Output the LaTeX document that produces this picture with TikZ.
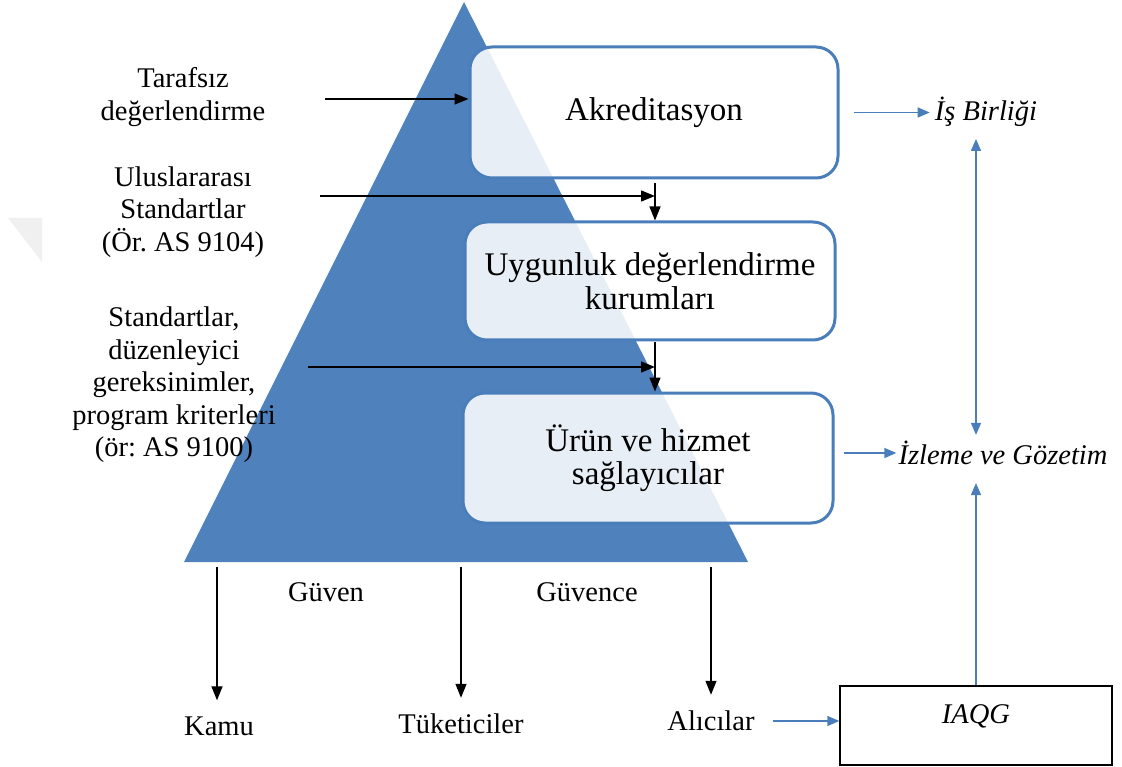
\documentclass[tikz,border=0pt]{standalone}
\usepackage{fontspec}
\setmainfont{Liberation Serif}
\usetikzlibrary{arrows.meta}
\definecolor{triblue}{RGB}{79,129,189}
\definecolor{edgeblue}{RGB}{74,126,187}
\frenchspacing
\begin{document}
\begin{tikzpicture}[x=1pt,y=-1pt,
  lbl/.style={font=\fontsize{28.5}{32.5}\selectfont, align=center, inner sep=2pt},
  itl/.style={font=\fontsize{28.5}{32.5}\selectfont\itshape, align=center, inner sep=2pt},
  stage/.style={draw=edgeblue, line width=3pt, rounded corners=22pt, fill=white,
    fill opacity=0.87, text opacity=1, align=center,
    font=\fontsize{33}{33.5}\selectfont},
  blk/.style={draw=black, line width=1.3pt, -{Triangle[length=14pt,width=11pt]}},
  blu/.style={draw=edgeblue, line width=1.5pt, -{Triangle[length=12pt,width=10pt]}},
]
\useasboundingbox (0,0) rectangle (1122,767);

% faint mark at the left margin
\fill[black!6] (8,218) -- (42,218) -- (42,262) -- cycle;

% pyramid
\fill[triblue] (464,2) -- (748,562) -- (184,562) -- cycle;
\coordinate (base) at (0,567);

% stages
\node[stage, minimum width=368pt, minimum height=131pt] (box1) at (654,112.5) {Akreditasyon};
\node[stage, minimum width=370pt, minimum height=118pt] (box2) at (650,281) {Uygunluk değerlendirme\\kurumları};
\node[stage, minimum width=370pt, minimum height=130pt] (box3) at (648,458) {Ürün ve hizmet\\sağlayıcılar};

% inputs on the left
\node[lbl] (in1) at (183,97) {Tarafsız\\değerlendirme};
\node[lbl] (in2) at (183,212) {Uluslararası\\Standartlar\\(Ör. AS 9104)};
\node[lbl] (in3) at (174,385) {Standartlar,\\düzenleyici\\gereksinimler,\\program kriterleri\\(ör: AS 9100)};

\coordinate (s1) at (325,99);
\coordinate (s2) at (320,196);
\coordinate (s3) at (308,367);
\coordinate (j1) at (655,196);
\coordinate (j2) at (655,367);

\draw[blk] (s1) -- (s1 -| box1.west);
\draw[blk] (s2) -- (j1);
\draw[blk, shorten <=4pt] (j1 |- box1.south) -- (j1 |- box2.north);
\draw[blk] (s3) -- (j2);
\draw[blk, shorten <=1pt] (j2 |- box2.south) -- (j2 |- box3.north);

% outputs below
\node[lbl] (kamu) at (219,726) {Kamu};
\node[lbl] (tuk) at (461,724) {Tüketiciler};
\node[lbl] (alici) at (711,721) {Alıcılar};
\node[lbl] (guven) at (326,592) {Güven};
\node[lbl] (guvence) at (587,592) {Güvence};

\draw[blk] (base -| 217,0) -- ([yshift=14pt]kamu.north -| 217,0);
\draw[blk] (base -| tuk.north) -- ([yshift=14pt]tuk.north);
\draw[blk] (base -| alici.north) -- ([yshift=14pt]alici.north);

% right side
\node[itl] (isb) at (986,112) {İş Birliği};
\node[itl] (izg) at (1003,453) {İzleme ve Gözetim};
\node[draw, line width=1.4pt, minimum width=272pt, minimum height=79pt, inner sep=0pt] (iaqg) at (976,725.5) {};
\node[itl] (iaqgt) at (976,716) {IAQG};

\coordinate (vx) at (976,0);

\draw[blu, shorten <=14pt, shorten >=3pt] (box1.east) -- (box1.east -| isb.west);
\draw[blu, shorten <=9pt] (box3.east |- izg) -- (izg.west);
\draw[blu, {Triangle[length=12pt,width=10pt]}-{Triangle[length=12pt,width=10pt]}, shorten <=10pt, shorten >=4pt]
  (vx |- isb.south) -- (vx |- izg.north);
\draw[blu, shorten >=16pt] (iaqg.north) -- (vx |- izg.south);
\draw[blu, shorten <=16pt] (alici.east) -- (alici.east -| iaqg.west);

\end{tikzpicture}
\end{document}
